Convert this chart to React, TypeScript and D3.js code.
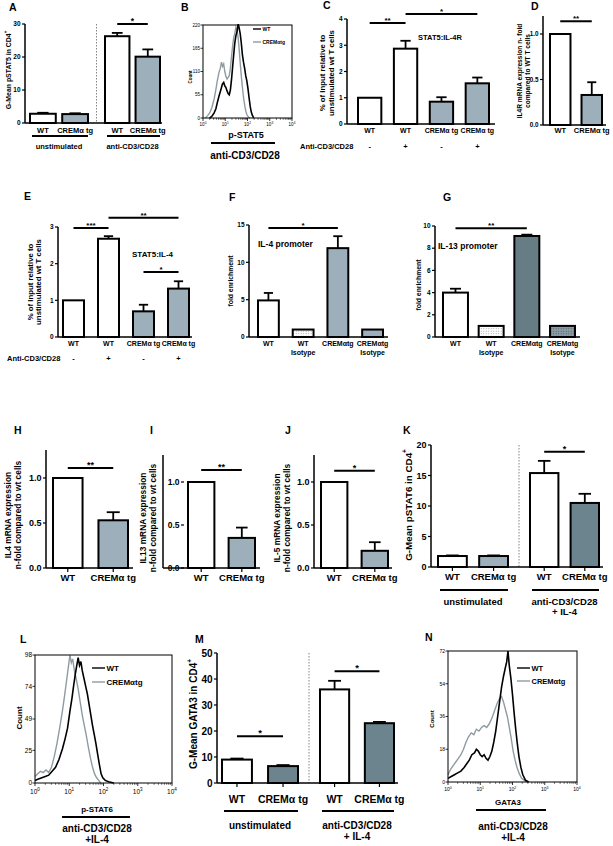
import React from "react";
import * as d3 from "d3";

const FONT = "'Liberation Sans', Arial, Helvetica, sans-serif";
const LIGHT = "#9cafbb";
const DARK = "#6c848e";
const DARK2 = "#667d86";
const GRAYLINE = "#8e9ca2";

// ---------------- data ----------------
const A_labels = ["WT", "CREMα tg", "WT", "CREMα tg"];
const A_values = [2.8, 2.7, 26.3, 20.1];
const A_errors = [0.3, 0.25, 1.0, 2.2];
const A_ticks = [0, 10, 20, 30];
const A_groups = ["unstimulated", "anti-CD3/CD28"];
const A_sig = [{ a: 2, b: 3, level: 30, label: "*" }];

const B_ticksY = [0, 55, 110, 165, 220];
const B_wt: [number, number][] = [[0.30,0],[0.40,4],[0.50,12],[0.58,22],[0.65,38],[0.72,52],[0.80,66],[0.87,80],[0.93,84],[0.98,76],[1.03,72],[1.08,64],[1.13,58],[1.18,55],[1.23,66],[1.28,90],[1.33,120],[1.38,150],[1.43,178],[1.48,195],[1.53,205],[1.58,222],[1.62,214],[1.67,200],[1.72,178],[1.77,150],[1.82,132],[1.87,118],[1.92,100],[1.97,88],[2.02,70],[2.07,48],[2.12,28],[2.17,14],[2.22,6],[2.28,0]];
const B_crem: [number, number][] = [[0.10,0],[0.20,5],[0.30,12],[0.40,25],[0.50,45],[0.58,68],[0.65,90],[0.72,108],[0.78,118],[0.83,132],[0.88,122],[0.93,128],[0.98,110],[1.03,98],[1.08,92],[1.13,96],[1.18,100],[1.23,118],[1.28,145],[1.33,170],[1.38,190],[1.43,200],[1.48,215],[1.53,208],[1.58,190],[1.63,160],[1.68,125],[1.73,95],[1.78,68],[1.83,45],[1.88,28],[1.93,15],[1.98,7],[2.05,2],[2.12,0]];

const C_labels = ["WT", "WT", "CREMα tg", "CREMα tg"];
const C_values = [1.0, 2.87, 0.85, 1.55];
const C_errors = [0, 0.3, 0.17, 0.22];
const C_ticks = [0, 1, 2, 3, 4];
const C_stim = ["-", "+", "-", "+"];
const C_sig = [{ a: 0, b: 1, level: 3.85, label: "**" }, { a: 1, b: 3, level: 4.19, label: "*" }];

const D_labels = ["WT", "CREMα tg"];
const D_values = [1.0, 0.33];
const D_errors = [0, 0.14];
const D_ticks = [0, 0.5, 1.0];
const D_sig = [{ a: 0, b: 1, level: 1.14, label: "**" }];

const E_labels = ["WT", "WT", "CREMα tg", "CREMα tg"];
const E_values = [1.0, 2.68, 0.7, 1.32];
const E_errors = [0, 0.07, 0.18, 0.2];
const E_ticks = [0, 1, 2, 3];
const E_stim = ["-", "+", "-", "+"];
const E_sig = [
  { a: 0, b: 1, level: 2.97, label: "***" },
  { a: 1, b: 3, level: 3.25, label: "**" },
  { a: 2, b: 3, level: 1.77, label: "*" },
];

const F_labels = ["WT", "WT\nIsotype", "CREMαtg", "CREMαtg\nIsotype"];
const F_values = [4.9, 1.0, 11.9, 1.0];
const F_errors = [1.0, 0, 1.6, 0];
const F_ticks = [0, 5, 10, 15];
const F_sig = [{ a: 0, b: 2, level: 14.6, label: "*" }];

const G_labels = ["WT", "WT\nIsotype", "CREMαtg", "CREMαtg\nIsotype"];
const G_values = [4.0, 1.0, 9.1, 1.0];
const G_errors = [0.35, 0, 0.12, 0];
const G_ticks = [0, 2, 4, 6, 8, 10];
const G_sig = [{ a: 0, b: 2, level: 9.8, label: "**" }];

const HIJ_labels = ["WT", "CREMα tg"];
const HIJ_ticks = [0, 0.5, 1.0];
const H_values = [1.0, 0.53];
const H_errors = [0, 0.09];
const H_sig = [{ a: 0, b: 1, level: 1.11, label: "**" }];
const I_values = [1.0, 0.35];
const I_errors = [0, 0.12];
const I_sig = [{ a: 0, b: 1, level: 1.14, label: "**" }];
const J_values = [1.0, 0.2];
const J_errors = [0, 0.1];
const J_sig = [{ a: 0, b: 1, level: 1.13, label: "*" }];

const K_labels = ["WT", "CREMα tg", "WT", "CREMα tg"];
const K_values = [1.8, 1.8, 15.4, 10.5];
const K_errors = [0.1, 0.1, 2.0, 1.5];
const K_ticks = [0, 5, 10, 15, 20];
const K_groups = ["unstimulated", "anti-CD3/CD28\n+ IL-4"];
const K_sig = [{ a: 2, b: 3, level: 18.9, label: "*" }];

const L_ticksY = [0, 25, 49, 74, 98];
const L_wt: [number, number][] = [[0.00,2],[0.10,3],[0.20,4],[0.30,5],[0.40,6],[0.50,9],[0.60,12],[0.70,18],[0.80,26],[0.88,34],[0.95,42],[1.02,55],[1.08,65],[1.13,75],[1.18,84],[1.22,90],[1.26,96],[1.30,90],[1.34,93],[1.38,86],[1.43,80],[1.48,74],[1.53,68],[1.58,60],[1.63,52],[1.68,44],[1.73,37],[1.78,30],[1.83,22],[1.88,14],[1.93,7],[1.98,4],[2.05,2],[2.15,1],[2.30,0]];
const L_crem: [number, number][] = [[0.00,5],[0.08,7],[0.16,9],[0.24,8],[0.32,10],[0.40,8],[0.48,12],[0.56,20],[0.64,30],[0.72,42],[0.80,55],[0.87,68],[0.93,80],[0.98,90],[1.02,98],[1.06,92],[1.10,95],[1.15,86],[1.20,80],[1.26,72],[1.32,62],[1.38,52],[1.44,44],[1.50,36],[1.56,27],[1.62,19],[1.68,12],[1.74,7],[1.80,4],[1.86,2],[1.92,0]];

const M_labels = ["WT", "CREMα tg", "WT", "CREMα tg"];
const M_values = [9.0, 6.5, 36, 23];
const M_errors = [0.4, 0.4, 3.3, 0.5];
const M_ticks = [0, 10, 20, 30, 40, 50];
const M_groups = ["unstimulated", "anti-CD3/CD28\n+ IL-4"];
const M_sig = [{ a: 0, b: 1, level: 18, label: "*" }, { a: 2, b: 3, level: 43, label: "*" }];

const N_ticksY = [0, 18, 36, 54, 72];
const N_wt: [number, number][] = [[0.00,2],[0.10,3],[0.20,4],[0.30,5],[0.40,6],[0.50,8],[0.58,10],[0.66,12],[0.74,15],[0.82,16],[0.88,18],[0.94,17],[1.00,15],[1.06,14],[1.12,15],[1.18,13],[1.24,12],[1.30,14],[1.36,17],[1.42,22],[1.48,28],[1.54,36],[1.60,44],[1.66,52],[1.72,58],[1.78,63],[1.82,66],[1.86,72],[1.90,64],[1.95,57],[2.00,48],[2.05,38],[2.10,29],[2.15,21],[2.20,14],[2.26,8],[2.32,4],[2.40,1],[2.50,0]];
const N_crem: [number, number][] = [[0.00,4],[0.08,7],[0.16,9],[0.24,11],[0.32,13],[0.40,15],[0.48,18],[0.56,22],[0.64,25],[0.72,27],[0.80,26],[0.88,29],[0.96,28],[1.04,30],[1.12,31],[1.20,30],[1.28,32],[1.36,35],[1.44,39],[1.52,43],[1.60,46],[1.66,47],[1.72,44],[1.78,40],[1.84,36],[1.90,30],[1.96,24],[2.02,17],[2.08,12],[2.14,8],[2.20,5],[2.28,2],[2.36,1],[2.44,0]];

// ---------------- helpers ----------------
type Sig = { a: number; b: number; level: number; label: string };

function MultiText({ x, y, text, size, gap, anchor = "middle", weight = "bold", fill = "#000" }: any) {
  const lines = String(text).split("\n");
  return (
    <text x={x} y={y} fontSize={size} fontWeight={weight} textAnchor={anchor} fontFamily={FONT} fill={fill}>
      {lines.map((l, i) => (
        <tspan key={i} x={x} dy={i === 0 ? 0 : gap}>{l}</tspan>
      ))}
    </text>
  );
}

function RotTitle({ xs, cy, lines, size, sup }: any) {
  return (
    <g>
      {lines.map((l: string, i: number) => (
        <text key={i} transform={`translate(${xs[i]},${cy}) rotate(-90)`} textAnchor="middle"
          dominantBaseline="central" fontSize={size} fontWeight="bold" fontFamily={FONT}>
          {l}
          {sup && i === lines.length - 1 ? <tspan fontSize={size * 0.65} dy={-size * 0.4}>{sup}</tspan> : null}
        </text>
      ))}
    </g>
  );
}

function Letter({ x, y, t }: any) {
  return <text x={x} y={y} fontSize={10.5} fontWeight="bold" fontFamily={FONT}>{t}</text>;
}

function BarPanel(p: any) {
  const y = d3.scaleLinear().domain(p.yDomain).range(p.yRange);
  const bands: { x: number; w: number }[] = [];
  let k = 0;
  p.groupSizes.forEach((n: number, gi: number) => {
    const keys = d3.range(n).map((i) => String(k + i));
    const sc = d3.scaleBand().domain(keys).range(p.groupRanges[gi]).paddingInner(p.pad).paddingOuter(0);
    keys.forEach((key) => bands.push({ x: sc(key) as number, w: sc.bandwidth() }));
    k += n;
  });
  const y0 = y(0);
  const yMaxPx = y(p.yDomain[1]);
  const sw = p.sw ?? 2;
  const fmt = p.tickFmt ?? ((v: number) => String(v));
  const cx = (i: number) => bands[i].x + bands[i].w / 2;
  const tickX = p.tickAt ?? p.axisX;
  const groupInfo: { x1: number; x2: number }[] = [];
  let s = 0;
  p.groupSizes.forEach((n: number) => {
    groupInfo.push({ x1: bands[s].x, x2: bands[s + n - 1].x + bands[s + n - 1].w });
    s += n;
  });
  return (
    <g fontFamily={FONT}>
      {p.separator && groupInfo.length > 1 && (
        <line x1={(groupInfo[0].x2 + groupInfo[1].x1) / 2} x2={(groupInfo[0].x2 + groupInfo[1].x1) / 2}
          y1={yMaxPx} y2={y0} stroke="#777" strokeWidth={0.9} strokeDasharray="1.5,1.5" />
      )}
      {p.values.map((v: number, i: number) => {
        const top = y(v);
        const e = p.errors[i];
        return (
          <g key={i}>
            {e > 0 && (
              <g stroke="#000" strokeWidth={1.8}>
                <line x1={cx(i)} x2={cx(i)} y1={top} y2={y(v + e)} />
                <line x1={cx(i) - bands[i].w * 0.22} x2={cx(i) + bands[i].w * 0.22} y1={y(v + e)} y2={y(v + e)} />
              </g>
            )}
            <rect x={bands[i].x} y={top} width={bands[i].w} height={y0 - top} fill={p.fills[i]} stroke="#000" strokeWidth={sw} />
          </g>
        );
      })}
      <line x1={p.axisX} x2={p.axisX} y1={p.axisTop ?? yMaxPx} y2={y0} stroke="#000" strokeWidth={1.5} />
      {p.ticks.map((t: number) => (
        <g key={t}>
          <line x1={tickX - 3} x2={tickX} y1={y(t)} y2={y(t)} stroke="#000" strokeWidth={1.2} />
          <text x={tickX - 4.5} y={y(t)} dy="0.35em" textAnchor="end" fontSize={p.tickFont} fontWeight="bold">{fmt(t)}</text>
        </g>
      ))}
      <line x1={p.axisX} x2={p.xEnd} y1={y0} y2={y0} stroke="#000" strokeWidth={1.5} />
      {p.xTicks && bands.map((b, i) => (
        <line key={i} x1={cx(i)} x2={cx(i)} y1={y0} y2={y0 + 4} stroke="#000" strokeWidth={1.2} />
      ))}
      {p.labels.map((l: string, i: number) => (
        <MultiText key={i} x={cx(i)} y={p.labelY} text={l} size={p.labelFont} gap={p.labelFont * 1.35} />
      ))}
      {p.stim && (
        <g>
          <text x={p.stimX} y={p.stimY} fontSize={p.stimFont} fontWeight="bold">Anti-CD3/CD28</text>
          {p.stim.map((s: string, i: number) => (
            <text key={i} x={cx(i)} y={p.stimY} fontSize={p.stimFont} fontWeight="bold" textAnchor="middle">{s}</text>
          ))}
        </g>
      )}
      {p.groups && groupInfo.map((g, gi) => (
        <g key={gi}>
          <line x1={g.x1 + 2} x2={g.x2} y1={p.groupLineY} y2={p.groupLineY} stroke="#000" strokeWidth={2} />
          <MultiText x={(g.x1 + g.x2) / 2} y={p.groupTitleY} text={p.groups[gi]} size={p.groupFont} gap={p.groupFont * 1.1} />
        </g>
      ))}
      {p.sig.map((sg: Sig, i: number) => (
        <g key={i}>
          <line x1={cx(sg.a)} x2={cx(sg.b)} y1={y(sg.level)} y2={y(sg.level)} stroke="#000" strokeWidth={2} />
          <text x={(cx(sg.a) + cx(sg.b)) / 2} y={y(sg.level) + (p.sigFont ?? 8) * 0.1 - 1} textAnchor="middle"
            fontSize={p.sigFont ?? 8} fontWeight="bold">{sg.label}</text>
        </g>
      ))}
    </g>
  );
}

function Hist(p: any) {
  const xs = d3.scaleLinear().domain([0, 4]).range([p.x0, p.x1]);
  const ys = d3.scaleLinear().domain([0, p.yMax]).range([p.y1, p.y0]);
  const line = d3.line<[number, number]>().x((d) => xs(d[0])).y((d) => ys(d[1]));
  const minor: number[] = [];
  for (let k = 0; k < 4; k++) for (let m = 2; m <= 9; m++) minor.push(k + Math.log10(m));
  return (
    <g fontFamily={FONT}>
      {p.curves.map((c: any, i: number) => (
        <path key={i} d={line(c.data) as string} fill="none" stroke={c.color} strokeWidth={c.width ?? 1.4} />
      ))}
      <rect x={p.x0} y={p.y0} width={p.x1 - p.x0} height={p.y1 - p.y0} fill="none" stroke="#000" strokeWidth={1} />
      {p.yTicks.map((t: number) => (
        <g key={t}>
          <line x1={p.x0 - 2.5} x2={p.x0} y1={ys(t)} y2={ys(t)} stroke="#000" strokeWidth={0.8} />
          <text x={p.x0 - 3} y={ys(t)} dy="0.35em" textAnchor="end" fontSize={p.tickFont}>{t}</text>
        </g>
      ))}
      {[0, 1, 2, 3, 4].map((k) => (
        <g key={k}>
          <line x1={xs(k)} x2={xs(k)} y1={p.y1} y2={p.y1 + 3} stroke="#000" strokeWidth={0.8} />
          <text x={xs(k)} y={p.y1 + 3 + p.tickFont * 1.2} textAnchor="middle" fontSize={p.tickFont}>
            10<tspan fontSize={p.tickFont * 0.7} dy={-p.tickFont * 0.45}>{k}</tspan>
          </text>
        </g>
      ))}
      {minor.map((m, i) => (
        <line key={i} x1={xs(m)} x2={xs(m)} y1={p.y1} y2={p.y1 + 1.8} stroke="#000" strokeWidth={0.6} />
      ))}
      {p.legend.map((lg: any, i: number) => (
        <g key={i}>
          <line x1={p.legX} x2={p.legX + p.legLen} y1={p.legY + i * p.legGap} y2={p.legY + i * p.legGap}
            stroke={lg.color} strokeWidth={1.4} />
          <text x={p.legX + p.legLen + 1.5} y={p.legY + i * p.legGap} dy="0.35em" fontSize={p.legFont} fontWeight="bold">{lg.label}</text>
        </g>
      ))}
    </g>
  );
}

export default function App() {
  return (
    <svg width={613} height={846} style={{ position: "absolute", left: 0, top: 0, background: "#fff" }}>
      <defs>
        <pattern id="dotLight" width="2.5" height="2.5" patternUnits="userSpaceOnUse">
          <rect width="2.5" height="2.5" fill="#fff" />
          <circle cx="1.2" cy="1.2" r="0.55" fill="#999" />
        </pattern>
        <pattern id="dotDark" width="2.5" height="2.5" patternUnits="userSpaceOnUse">
          <rect width="2.5" height="2.5" fill="#8e9ea6" />
          <circle cx="1.2" cy="1.2" r="0.6" fill="#4a575d" />
        </pattern>
      </defs>
      <rect width={613} height={846} fill="#fff" />

      {/* ---- A ---- */}
      <Letter x={9} y={11} t="A" />
      <RotTitle xs={[8]} cy={70} lines={["G-Mean pSTAT5 in CD4"]} size={6.9} sup="+" />
      <BarPanel labels={A_labels} values={A_values} errors={A_errors} fills={["#fff", LIGHT, "#fff", LIGHT]}
        groupRanges={[[30, 88], [105, 160]]} groupSizes={[2, 2]} pad={0.2}
        yDomain={[0, 30]} yRange={[123, 24]} ticks={A_ticks} axisX={25} xEnd={162}
        tickFont={6.5} labelFont={7.5} labelY={133} sig={A_sig} sigFont={8.5} separator
        groups={A_groups} groupLineY={136} groupTitleY={149} groupFont={7.5} />

      {/* ---- B ---- */}
      <Letter x={181} y={11} t="B" />
      <Hist x0={203} y0={25} x1={292} y1={118} yMax={220} yTicks={B_ticksY} tickFont={4.5}
        curves={[{ data: B_crem, color: GRAYLINE }, { data: B_wt, color: "#000", width: 1.6 }]}
        legend={[{ label: "WT", color: "#000" }, { label: "CREMαtg", color: GRAYLINE }]}
        legX={253} legY={29} legLen={8} legGap={13} legFont={5} />
      <RotTitle xs={[190]} cy={77} lines={["Count"]} size={4.5} />
      <text x={246} y={138} textAnchor="middle" fontSize={9} fontWeight="bold" fontFamily={FONT}>p-STAT5</text>
      <line x1={211} x2={275} y1={143} y2={143} stroke="#000" strokeWidth={2} />
      <text x={245} y={159} textAnchor="middle" fontSize={10} fontWeight="bold" fontFamily={FONT}>anti-CD3/CD28</text>

      {/* ---- C ---- */}
      <Letter x={323} y={9} t="C" />
      <RotTitle xs={[322, 331]} cy={73} lines={["% of Input relative to", "unstimulated wt  T cells"]} size={7.8} />
      <BarPanel labels={C_labels} values={C_values} errors={C_errors} fills={["#fff", "#fff", LIGHT, LIGHT]}
        groupRanges={[[358, 489]]} groupSizes={[4]} pad={0.35}
        yDomain={[0, 4]} yRange={[124, 19]} ticks={C_ticks} axisX={347} xEnd={495}
        tickFont={6.5} labelFont={7} labelY={133} sig={C_sig} sigFont={8}
        stim={C_stim} stimX={300} stimY={149} stimFont={7.5} />
      <text x={418} y={40} fontSize={7.5} fontWeight="bold" fontFamily={FONT}>STAT5:IL-4R</text>

      {/* ---- D ---- */}
      <Letter x={531} y={10} t="D" />
      <RotTitle xs={[519, 527.5]} cy={71} lines={["IL4R mRNA expression n- fold", "compared to WT T cells"]} size={6.6} />
      <BarPanel labels={D_labels} values={D_values} errors={D_errors} fills={["#fff", LIGHT]}
        groupRanges={[[550, 602]]} groupSizes={[2]} pad={0.35}
        yDomain={[0, 1]} yRange={[125, 34]} ticks={D_ticks} tickFmt={(v: number) => v.toFixed(1)}
        axisX={543} axisTop={16} xEnd={606}
        tickFont={6.3} labelFont={7.5} labelY={133} sig={D_sig} sigFont={8} />

      {/* ---- E ---- */}
      <Letter x={24} y={200} t="E" />
      <RotTitle xs={[30, 38.5]} cy={282} lines={["% of Input relative to", "unstimulated wt  T cells"]} size={7.8} />
      <BarPanel labels={E_labels} values={E_values} errors={E_errors} fills={["#fff", "#fff", LIGHT, LIGHT]}
        groupRanges={[[63, 189]]} groupSizes={[4]} pad={0.4}
        yDomain={[0, 3]} yRange={[337, 227]} ticks={E_ticks} axisX={58} xEnd={192}
        tickFont={6.5} labelFont={7} labelY={346} sig={E_sig} sigFont={8}
        stim={E_stim} stimX={7} stimY={361} stimFont={7.5} />
      <text x={132} y={257} fontSize={8} fontWeight="bold" fontFamily={FONT}>STAT5:IL-4</text>

      {/* ---- F ---- */}
      <Letter x={229} y={201} t="F" />
      <RotTitle xs={[230]} cy={281} lines={["fold enrichment"]} size={6.8} />
      <BarPanel labels={F_labels} values={F_values} errors={F_errors} fills={["#fff", "url(#dotLight)", LIGHT, LIGHT]}
        groupRanges={[[258, 383]]} groupSizes={[4]} pad={0.4}
        yDomain={[0, 15]} yRange={[337, 225]} ticks={F_ticks} axisX={249} xEnd={388}
        tickFont={6.5} labelFont={7} labelY={346} sig={F_sig} sigFont={8} />
      <text x={258} y={247} fontSize={8.5} fontWeight="bold" fontFamily={FONT}>IL-4 promoter</text>

      {/* ---- G ---- */}
      <Letter x={443} y={201} t="G" />
      <RotTitle xs={[418]} cy={285} lines={["fold enrichment"]} size={6.8} />
      <BarPanel labels={G_labels} values={G_values} errors={G_errors} fills={["#fff", "url(#dotLight)", DARK2, "url(#dotDark)"]}
        groupRanges={[[443, 575]]} groupSizes={[4]} pad={0.3}
        yDomain={[0, 10]} yRange={[337, 226]} ticks={G_ticks} axisX={435} xEnd={580}
        tickFont={6.5} labelFont={7} labelY={346} sig={G_sig} sigFont={8} />
      <text x={438} y={249} fontSize={8.5} fontWeight="bold" fontFamily={FONT}>IL-13 promoter</text>

      {/* ---- H ---- */}
      <Letter x={14} y={434} t="H" />
      <RotTitle xs={[8, 18]} cy={515} lines={["IL4 mRNA expression", "n-fold compared to wt cells"]} size={8.4} />
      <BarPanel labels={HIJ_labels} values={H_values} errors={H_errors} fills={["#fff", LIGHT]}
        groupRanges={[[53, 128]]} groupSizes={[2]} pad={0.35}
        yDomain={[0, 1]} yRange={[568, 478]} ticks={HIJ_ticks} tickFmt={(v: number) => v.toFixed(1)}
        axisX={46} axisTop={450} xEnd={133} xTicks
        tickFont={9} labelFont={9.5} labelY={581} sig={H_sig} sigFont={9} />

      {/* ---- I ---- */}
      <Letter x={150} y={434} t="I" />
      <RotTitle xs={[143, 153]} cy={518} lines={["IL13 mRNA expression", "n-fold compared to wt cells"]} size={8.4} />
      <BarPanel labels={HIJ_labels} values={I_values} errors={I_errors} fills={["#fff", LIGHT]}
        groupRanges={[[188, 255]]} groupSizes={[2]} pad={0.35}
        yDomain={[0, 1]} yRange={[568, 482]} ticks={HIJ_ticks} tickFmt={(v: number) => v.toFixed(1)}
        axisX={163} axisTop={455} tickAt={184} xEnd={260} xTicks
        tickFont={8.5} labelFont={9.5} labelY={581} sig={I_sig} sigFont={9} />

      {/* ---- J ---- */}
      <Letter x={285} y={434} t="J" />
      <RotTitle xs={[277, 287]} cy={518} lines={["IL-5 mRNA expression", "n-fold compared to wt cells"]} size={8.4} />
      <BarPanel labels={HIJ_labels} values={J_values} errors={J_errors} fills={["#fff", LIGHT]}
        groupRanges={[[321, 388]]} groupSizes={[2]} pad={0.35}
        yDomain={[0, 1]} yRange={[568, 482]} ticks={HIJ_ticks} tickFmt={(v: number) => v.toFixed(1)}
        axisX={314} axisTop={455} xEnd={392} xTicks
        tickFont={9} labelFont={9.5} labelY={581} sig={J_sig} sigFont={9} />

      {/* ---- K ---- */}
      <Letter x={403} y={434} t="K" />
      <RotTitle xs={[408]} cy={505} lines={["G-Mean pSTAT6 in CD4"]} size={9.8} sup="+" />
      <BarPanel labels={K_labels} values={K_values} errors={K_errors} fills={["#fff", LIGHT, "#fff", DARK]}
        groupRanges={[[438, 508], [530, 599]]} groupSizes={[2, 2]} pad={0.3}
        yDomain={[0, 20]} yRange={[567, 445]} ticks={K_ticks} axisX={431} xEnd={603} xTicks separator
        tickFont={9} labelFont={9.5} labelY={580} sig={K_sig} sigFont={9}
        groups={K_groups} groupLineY={590} groupTitleY={605} groupFont={9.5} />

      {/* ---- L ---- */}
      <Letter x={20} y={643} t="L" />
      <RotTitle xs={[19]} cy={718} lines={["Count"]} size={8} />
      <Hist x0={35} y0={655} x1={172} y1={783} yMax={98} yTicks={L_ticksY} tickFont={6.5}
        curves={[{ data: L_crem, color: GRAYLINE }, { data: L_wt, color: "#000", width: 1.6 }]}
        legend={[{ label: "WT", color: "#000" }, { label: "CREMαtg", color: GRAYLINE }]}
        legX={92} legY={668} legLen={13} legGap={14} legFont={8} />
      <text x={97} y={812} textAnchor="middle" fontSize={8} fontWeight="bold" fontFamily={FONT}>p-STAT6</text>
      <line x1={62} x2={130} y1={817} y2={817} stroke="#000" strokeWidth={2} />
      <MultiText x={97} y={832} text={"anti-CD3/CD28\n+IL-4"} size={10} gap={10.5} />

      {/* ---- M ---- */}
      <Letter x={195} y={643} t="M" />
      <RotTitle xs={[193]} cy={714} lines={["G-Mean GATA3 in CD4"]} size={10} sup="+" />
      <BarPanel labels={M_labels} values={M_values} errors={M_errors} fills={["#fff", DARK, "#fff", DARK]}
        groupRanges={[[222, 298], [320, 394]]} groupSizes={[2, 2]} pad={0.35}
        yDomain={[0, 50]} yRange={[783, 653]} ticks={M_ticks} axisX={217} xEnd={398} xTicks separator
        tickFont={10} labelFont={10.5} labelY={803} sig={M_sig} sigFont={9.5}
        groups={M_groups} groupLineY={811} groupTitleY={829} groupFont={10} />

      {/* ---- N ---- */}
      <Letter x={425} y={641} t="N" />
      <RotTitle xs={[432]} cy={719} lines={["Count"]} size={6} />
      <Hist x0={448} y0={651} x1={577} y1={782} yMax={72} yTicks={N_ticksY} tickFont={5}
        curves={[{ data: N_crem, color: GRAYLINE }, { data: N_wt, color: "#000", width: 1.6 }]}
        legend={[{ label: "WT", color: "#000" }, { label: "CREMαtg", color: GRAYLINE }]}
        legX={517} legY={668} legLen={13} legGap={13} legFont={7.5} />
      <text x={508} y={805} textAnchor="middle" fontSize={8} fontWeight="bold" fontFamily={FONT}>GATA3</text>
      <line x1={476} x2={546} y1={810} y2={810} stroke="#000" strokeWidth={2} />
      <MultiText x={513} y={830} text={"anti-CD3/CD28\n+IL-4"} size={10} gap={10.5} />
    </svg>
  );
}
